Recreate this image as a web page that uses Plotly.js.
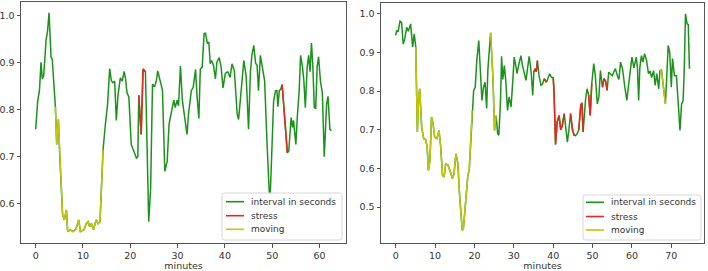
<!DOCTYPE html>
<html><head><meta charset="utf-8">
<script src="https://cdn.plot.ly/plotly-3.0.1.min.js"></script>
<style>html,body{margin:0;padding:0;background:#fff}#c{width:708px;height:271px}</style>
</head><body><div id="c"></div>
<script>
// Left panel
const minutesA = [0,0.43,0.8,1.13,1.4,1.7,2.2,2.5,2.83,3.0,3.25,3.5,4.17,4.45,4.8,5.1,5.7,6.07,6.5,6.77,7.3,7.9,8.5,9.1,9.45,10.2,10.7,11.1,11.4,11.8,12.2,12.8,13.2,13.6,14.25,14.7,15.2,15.65,16.0,16.3,16.7,17.05,17.4,17.9,18.3,18.7,19.0,19.3,19.7,20.2,20.8,21.3,21.6,21.8,22.3,22.7,23.2,23.9,24.3,24.7,25.1,25.5,25.8,26.4,26.8,27.3,27.8,28.2,28.7,29.2,29.5,29.9,30.2,30.6,31.0,31.5,32.0,32.3,32.9,33.3,33.8,34.1,34.5,34.8,35.2,35.6,35.9,36.3,36.6,36.9,37.2,37.6,38.0,38.3,38.8,39.2,39.6,40.1,40.6,41.1,41.5,42.0,42.6,42.9,43.5,44.0,44.5,45.0,45.4,45.7,46.1,46.5,46.8,47.1,47.5,47.9,48.4,48.9,49.4,49.6,50.0,50.3,50.7,51.0,51.2,51.5,51.8,52.1,53.2,53.5,54.0,54.3,54.5,55.0,55.3,55.7,56.0,56.4,56.7,57.0,57.4,57.7,58.0,58.3,58.6,58.9,59.2,59.5,59.8,60.2,60.6,61.0,61.5,61.8,62.2,62.5];
const intervalA = [0.758,0.818,0.84,0.90,0.865,0.872,0.947,0.965,1.005,0.965,0.911,0.907,0.806,0.726,0.779,0.70,0.576,0.566,0.587,0.541,0.545,0.541,0.546,0.566,0.541,0.545,0.558,0.562,0.552,0.558,0.545,0.566,0.558,0.562,0.715,0.765,0.811,0.887,0.861,0.857,0.86,0.777,0.83,0.867,0.86,0.881,0.865,0.836,0.826,0.726,0.71,0.697,0.70,0.83,0.747,0.886,0.88,0.562,0.633,0.854,0.848,0.86,0.882,0.857,0.841,0.669,0.69,0.769,0.793,0.82,0.804,0.82,0.808,0.892,0.82,0.787,0.747,0.79,0.84,0.847,0.885,0.83,0.781,0.886,0.89,0.961,0.962,0.94,0.943,0.897,0.904,0.893,0.865,0.90,0.91,0.89,0.846,0.877,0.88,0.868,0.897,0.882,0.79,0.779,0.85,0.904,0.87,0.758,0.88,0.915,0.936,0.898,0.894,0.84,0.915,0.89,0.861,0.73,0.62,0.622,0.73,0.818,0.84,0.84,0.806,0.84,0.843,0.853,0.708,0.712,0.783,0.762,0.777,0.726,0.783,0.84,0.915,0.89,0.86,0.804,0.89,0.915,0.88,0.941,0.89,0.804,0.803,0.89,0.912,0.86,0.835,0.70,0.811,0.828,0.758,0.755];
const stressA = [[21.8,23.2],[52.1,53.2]];
const movingA = [[4.17,14.25]];

// Right panel
const minutesB = [0,0.25,0.6,1.1,1.5,1.9,2.3,2.8,3.2,3.8,4.3,4.7,5.1,5.5,5.8,6.1,6.6,7.1,7.6,8.0,8.3,8.7,9.1,9.5,9.9,10.5,11.0,11.4,11.9,12.3,12.7,13.3,13.9,14.4,14.8,15.3,15.8,16.2,16.9,17.2,17.8,18.3,18.7,19.4,19.8,20.2,20.6,21.1,21.5,21.9,22.3,22.7,23.1,23.4,24.1,24.7,25.1,25.5,25.9,26.2,26.6,26.9,27.2,27.6,28.0,28.4,28.8,29.3,29.7,30.1,30.5,30.8,31.3,31.8,32.2,32.6,33.1,33.5,33.9,34.4,34.8,35.1,35.4,35.7,36.0,36.4,36.9,37.3,37.7,38.3,38.7,39.1,39.6,40.0,40.2,40.6,41.0,41.5,41.9,42.3,42.8,43.2,43.6,44.0,44.4,44.9,45.3,45.7,46.1,46.5,47.0,47.3,47.6,48.2,48.6,49.0,49.4,49.8,50.3,50.7,51.2,51.6,52.0,52.5,52.9,53.3,53.7,54.1,54.6,55.0,55.4,55.8,56.3,56.7,57.1,57.6,58.2,58.7,59.2,59.6,60.0,60.5,61.1,61.4,61.7,62.0,62.4,62.8,63.2,63.7,64.2,64.6,65.0,65.5,65.9,66.3,66.8,67.1,67.5,68.0,68.5,68.9,69.2,69.6,70.0,70.3,70.8,71.3,71.7,72.2,72.6,73.0,73.3,73.6,74.0,74.3,74.6];
const intervalB = [0.944,0.957,0.953,0.981,0.978,0.922,0.935,0.965,0.955,0.974,0.914,0.948,0.914,0.694,0.776,0.806,0.707,0.677,0.675,0.655,0.595,0.62,0.733,0.716,0.681,0.677,0.698,0.66,0.582,0.578,0.612,0.608,0.591,0.574,0.585,0.638,0.612,0.535,0.44,0.445,0.518,0.578,0.60,0.75,0.802,0.81,0.879,0.931,0.86,0.776,0.81,0.823,0.755,0.853,0.951,0.836,0.698,0.737,0.69,0.686,0.77,0.89,0.83,0.866,0.82,0.75,0.785,0.759,0.82,0.888,0.866,0.845,0.87,0.892,0.866,0.845,0.828,0.86,0.89,0.85,0.789,0.85,0.858,0.85,0.879,0.84,0.815,0.818,0.832,0.823,0.836,0.845,0.835,0.835,0.802,0.662,0.72,0.737,0.70,0.71,0.742,0.70,0.668,0.70,0.742,0.70,0.686,0.685,0.69,0.70,0.763,0.77,0.694,0.776,0.806,0.79,0.737,0.82,0.871,0.84,0.767,0.785,0.853,0.81,0.832,0.826,0.802,0.849,0.845,0.84,0.85,0.858,0.84,0.83,0.875,0.858,0.81,0.776,0.82,0.86,0.888,0.86,0.888,0.86,0.776,0.86,0.892,0.875,0.897,0.88,0.845,0.852,0.835,0.853,0.815,0.845,0.806,0.853,0.855,0.81,0.767,0.85,0.918,0.9,0.81,0.884,0.84,0.84,0.776,0.698,0.767,0.775,0.862,1.0,0.974,0.972,0.858];
const stressB = [[35.1,36.0],[37.7,38.3],[40.0,40.6],[41.0,41.9],[42.3,42.8],[44.4,45.7],[46.5,47.6],[49.0,49.8],[52.5,53.7]];
const movingB = [[5.1,19.4],[24.1,25.5],[67.1,68.5]];

const legendNames = ['interval in seconds','stress','moving'];
const GREEN = '#1c921c', RED = '#e8261c', YEL = '#c4c40a';
const COLORS = [GREEN, RED, YEL];

function seg(xs, ys, ranges){
  return ys.map((v,i)=> ranges.some(r => xs[i] >= r[0]-1e-9 && xs[i] <= r[1]+1e-9) ? v : null);
}
function traces(xs, ys, st, mv, xa, ya){
  return [
    {x:xs, y:ys, mode:'lines', name:legendNames[0], line:{color:GREEN,width:1.5}, xaxis:xa, yaxis:ya, showlegend:false},
    {x:xs, y:seg(xs,ys,st), mode:'lines', name:legendNames[1], line:{color:RED,width:1.5}, xaxis:xa, yaxis:ya, showlegend:false, connectgaps:false},
    {x:xs, y:seg(xs,ys,mv), mode:'lines', name:legendNames[2], line:{color:YEL,width:1.5}, xaxis:xa, yaxis:ya, showlegend:false, connectgaps:false}
  ];
}
const data = [].concat(
  traces(minutesA, intervalA, stressA, movingA, 'x', 'y'),
  traces(minutesB, intervalB, stressB, movingB, 'x2', 'y2')
);
const F = {family:'DejaVu Sans, sans-serif', size:9.5, color:'#333'};
function xax(dom, rng){
  return {domain:dom, range:rng, tickvals:[0,10,20,30,40,50,60,70], showgrid:false, zeroline:false,
    showline:true, mirror:true, linecolor:'#555', linewidth:1, ticks:'outside', ticklen:3.5, tickcolor:'#555',
    tickfont:F, title:{text:'minutes', font:F, standoff:4}};
}
function yax(dom, rng, anchor){
  return {domain:dom, range:rng, anchor:anchor, dtick:0.1, tickformat:'.1f', showgrid:false, zeroline:false,
    showline:true, mirror:true, linecolor:'#555', linewidth:1, ticks:'outside', ticklen:3.5, tickcolor:'#555', tickfont:F};
}

// custom legend boxes (pixel geometry -> paper)
const W = 708, H = 271;
const px = v => v / W, py = v => (H - v) / H;
const shapes = [], annotations = [];
function legendBox(x0, x1, y0, y1, lineX0, lineX1, textX, rows){
  const r = 2.5;
  const path = `M ${px(x0+r)} ${py(y0)} L ${px(x1-r)} ${py(y0)} Q ${px(x1)} ${py(y0)} ${px(x1)} ${py(y0+r)} ` +
    `L ${px(x1)} ${py(y1-r)} Q ${px(x1)} ${py(y1)} ${px(x1-r)} ${py(y1)} L ${px(x0+r)} ${py(y1)} ` +
    `Q ${px(x0)} ${py(y1)} ${px(x0)} ${py(y1-r)} L ${px(x0)} ${py(y0+r)} Q ${px(x0)} ${py(y0)} ${px(x0+r)} ${py(y0)} Z`;
  shapes.push({type:'path', xref:'paper', yref:'paper', path:path, fillcolor:'rgba(255,255,255,0.85)', line:{color:'#d6d6d6', width:1}, layer:'above'});
  rows.forEach((ry, i) => {
    shapes.push({type:'line', xref:'paper', yref:'paper', x0:px(lineX0), x1:px(lineX1), y0:py(ry), y1:py(ry), line:{color:COLORS[i], width:1.6}, layer:'above'});
    annotations.push({xref:'paper', yref:'paper', x:px(textX), y:py(ry), xanchor:'left', yanchor:'middle', showarrow:false,
      text:legendNames[i], font:{family:'DejaVu Sans, sans-serif', size:9, color:'#333'}});
  });
}
legendBox(222, 342, 193, 240, 226, 244, 249, [201.7, 215.7, 229.3]);
legendBox(583, 701, 195, 240, 586, 604, 609, [202.3, 216.5, 230]);

const layout = {
  width:W, height:H, margin:{l:0,r:0,t:0,b:0}, paper_bgcolor:'#fff', plot_bgcolor:'#fff',
  showlegend:false,
  xaxis: Object.assign(xax([21/W, 346/W], [-3.1, 65.6]), {anchor:'y'}),
  yaxis: yax([28/H, 269/H], [0.517, 1.028], 'x'),
  xaxis2: Object.assign(xax([381/W, 704/W], [-3.73, 78.3]), {anchor:'y2'}),
  yaxis2: yax([28/H, 268/H], [0.407, 1.028], 'x2'),
  shapes: shapes,
  annotations: annotations
};
Plotly.newPlot('c', data, layout, {staticPlot:true, displayModeBar:false});
</script>
</body></html>
